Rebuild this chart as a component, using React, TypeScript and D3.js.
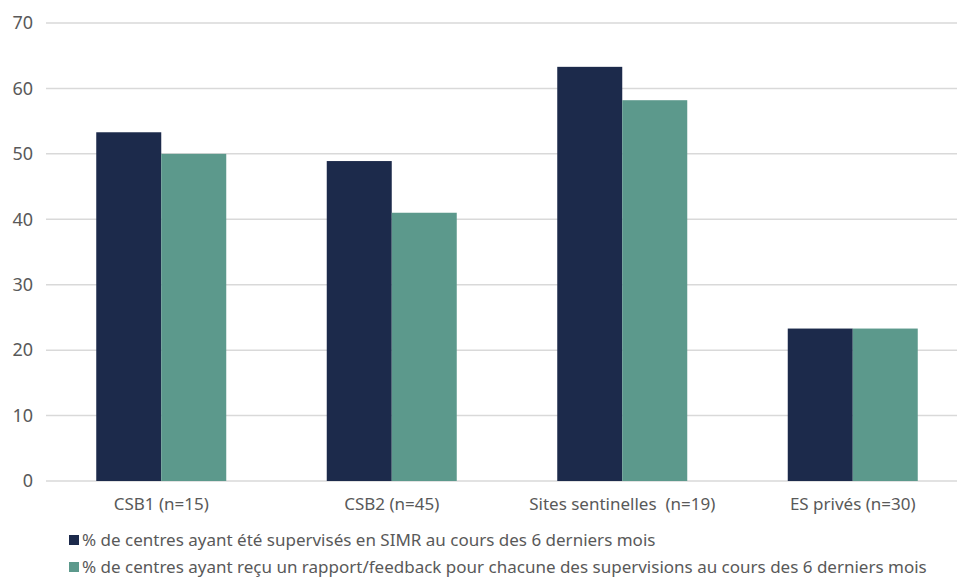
import React from "react";
import * as d3 from "d3";

const categories = ["CSB1 (n=15)", "CSB2 (n=45)", "Sites sentinelles  (n=19)", "ES privés (n=30)"];
const seriesNames = [
  "% de centres ayant été supervisés en SIMR au cours des 6 derniers mois",
  "% de centres ayant reçu un rapport/feedback pour chacune des supervisions au cours des 6 derniers mois",
];
const supervised = [53.3, 48.9, 63.3, 23.3];
const feedback = [50.0, 41.0, 58.2, 23.3];
const yTicks = [0, 10, 20, 30, 40, 50, 60, 70];
const colors = ["#1c2a4b", "#5c998c"];

const W = 957;
const H = 583;
const FONT = "'Century Gothic', 'Noto Sans', 'DejaVu Sans', sans-serif";

export default function App() {
  const x = d3.scaleBand<string>().domain(categories).range([46, 968]).paddingInner(0).paddingOuter(0);
  const y = d3.scaleLinear().domain([0, 70]).range([481, 23]);
  const groupW = 130;
  const sub = d3.scaleBand<number>().domain([0, 1]).range([0, groupW]);
  const series = [supervised, feedback];

  return (
    <svg width={W} height={H} style={{ position: "absolute", left: 0, top: 0, background: "#fff" }} fontFamily={FONT}>
      {yTicks.map((t) => (
        <g key={t}>
          <line x1={46} x2={957} y1={y(t)} y2={y(t)} stroke="#d9d9d9" strokeWidth={1.5} />
          <text x={33} y={y(t)} dy="0.35em" textAnchor="end" fontSize={18} fill="#595959">
            {t}
          </text>
        </g>
      ))}
      {series.map((vals, si) =>
        vals.map((v, ci) => {
          const cx = (x(categories[ci]) as number) + x.bandwidth() / 2;
          const bx = cx - groupW / 2 + (sub(si) as number);
          return (
            <rect key={`${si}-${ci}`} x={bx} y={y(v)} width={sub.bandwidth()} height={y(0) - y(v)} fill={colors[si]} />
          );
        })
      )}
      {categories.map((c) => (
        <text key={c} x={(x(c) as number) + x.bandwidth() / 2} y={510} textAnchor="middle" fontSize={17} fill="#595959" style={{ whiteSpace: "pre" }}>
          {c}
        </text>
      ))}
      {seriesNames.map((s, i) => (
        <g key={s}>
          <rect x={69} y={535 + i * 27} width={10} height={10} fill={colors[i]} />
          <text x={82} y={546 + i * 27} fontSize={17} fill="#595959">
            {s}
          </text>
        </g>
      ))}
    </svg>
  );
}
